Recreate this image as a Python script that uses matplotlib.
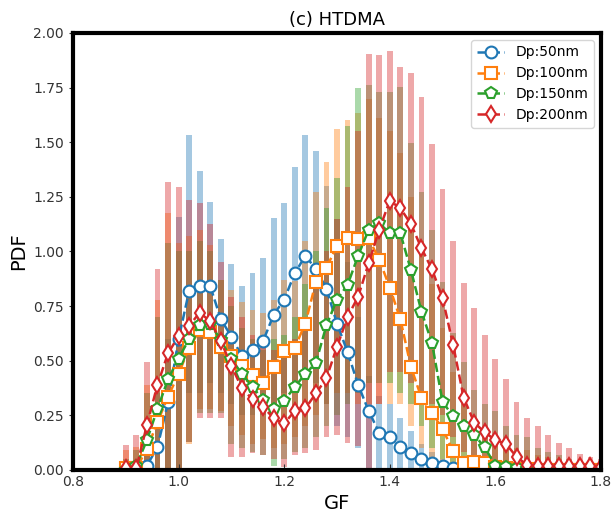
import numpy as np
import matplotlib
matplotlib.use('Agg')
import matplotlib.pyplot as plt

# GF bins
gf = np.round(np.arange(0.90, 1.801, 0.02), 2)

# mean PDF (lines with markers)
pdf_50 = [0.0, 0.0, 0.02, 0.105, 0.31, 0.60, 0.82, 0.84, 0.84, 0.69, 0.61, 0.52, 0.55, 0.59, 0.71,
          0.78, 0.90, 0.98, 0.92, 0.83, 0.67, 0.54, 0.39, 0.27, 0.17, 0.15, 0.105, 0.077, 0.05, 0.033,
          0.02, 0.01, 0.005, 0, 0, 0, 0, 0, 0, 0, 0, 0, 0, 0, 0, 0]
pdf_100 = [0.01, 0.01, 0.095, 0.22, 0.335, 0.44, 0.56, 0.64, 0.63, 0.565, 0.52, 0.475, 0.435, 0.40, 0.47,
           0.545, 0.56, 0.67, 0.86, 0.925, 1.027, 1.06, 1.057, 1.06, 0.963, 0.835, 0.69, 0.472, 0.33, 0.26,
           0.188, 0.085, 0.03, 0.035, 0.03, 0.015, 0.01, 0.005, 0.005, 0, 0, 0, 0, 0, 0, 0]
pdf_150 = [0.0, 0.02, 0.137, 0.28, 0.415, 0.51, 0.60, 0.664, 0.668, 0.595, 0.507, 0.44, 0.38, 0.32, 0.28,
           0.317, 0.38, 0.44, 0.49, 0.662, 0.78, 0.847, 0.98, 1.10, 1.13, 1.083, 1.083, 0.915, 0.725, 0.58,
           0.31, 0.247, 0.203, 0.16, 0.103, 0.02, 0.015, 0.01, 0.005, 0.005, 0, 0, 0, 0, 0, 0]
pdf_200 = [0.008, 0.008, 0.206, 0.39, 0.534, 0.613, 0.66, 0.72, 0.68, 0.59, 0.476, 0.374, 0.323, 0.29, 0.236,
           0.213, 0.27, 0.282, 0.35, 0.42, 0.564, 0.70, 0.793, 0.946, 1.10, 1.232, 1.198, 1.126, 1.015, 0.918,
           0.786, 0.572, 0.33, 0.217, 0.172, 0.137, 0.12, 0.06, 0.023, 0.02, 0.02, 0.02, 0.02, 0.02, 0.02, 0.015]

# range bars (low / high)
hi_50 = [0.0, 0.02, 0.08, 0.35, 0.60, 1.16, 1.533, 1.368, 1.228, 1.056, 0.941, 0.844, 0.90, 0.969, 1.155,
         1.224, 1.388, 1.533, 1.46, 1.30, 1.15, 0.95, 0.70, 0.43, 0.34, 0.30, 0.24, 0.18, 0.12, 0.08,
         0.05, 0.03, 0.01, 0, 0, 0, 0, 0, 0, 0, 0, 0, 0, 0, 0, 0]
lo_50 = [0, 0, 0, 0, 0, 0, 0.35, 0.35, 0.40, 0.35, 0.30, 0.25, 0.25, 0.25, 0.30,
         0.35, 0.40, 0.45, 0.40, 0.30, 0.20, 0.15, 0.10, 0, 0, 0, 0, 0, 0, 0,
         0, 0, 0, 0, 0, 0, 0, 0, 0, 0, 0, 0, 0, 0, 0, 0]
hi_100 = [0.09, 0.107, 0.39, 0.78, 1.175, 1.04, 1.07, 1.10, 1.03, 0.87, 0.824, 0.77, 0.732, 0.717, 0.778,
          0.869, 0.866, 1.05, 1.27, 1.41, 1.56, 1.60, 1.632, 1.70, 1.61, 1.55, 1.45, 1.25, 1.05, 0.85,
          0.65, 0.45, 0.30, 0.22, 0.18, 0.14, 0.12, 0.10, 0.09, 0.07, 0.06, 0.05, 0.04, 0.03, 0.025, 0.02]
lo_100 = [0, 0, 0, 0, 0, 0, 0.12, 0.28, 0.28, 0.27, 0.20, 0.16, 0.12, 0.14, 0.10,
          0.12, 0.15, 0.20, 0.25, 0.30, 0.35, 0.35, 0.30, 0.30, 0.30, 0.30, 0.30, 0.20, 0.10, 0.05,
          0, 0, 0, 0, 0, 0, 0, 0, 0, 0, 0, 0, 0, 0, 0, 0]
hi_150 = [0.05, 0.09, 0.35, 0.70, 1.04, 1.00, 1.00, 1.05, 1.00, 0.87, 0.75, 0.65, 0.60, 0.55, 0.60,
          0.62, 0.70, 0.85, 1.00, 1.20, 1.335, 1.574, 1.747, 1.762, 1.731, 1.73, 1.754, 1.495, 1.274, 1.10,
          0.862, 0.626, 0.496, 0.366, 0.30, 0.27, 0.20, 0.16, 0.15, 0.10, 0.084, 0.069, 0.049, 0.04, 0.03, 0.025]
lo_150 = [0, 0, 0, 0, 0, 0, 0.13, 0.26, 0.26, 0.26, 0.12, 0.10, 0.08, 0.07, 0.02,
          0.05, 0.08, 0.10, 0.15, 0.20, 0.25, 0.30, 0.35, 0.40, 0.40, 0.40, 0.35, 0.30, 0.20, 0.10,
          0.05, 0, 0, 0, 0, 0, 0, 0, 0, 0, 0, 0, 0, 0, 0, 0]
hi_200 = [0.114, 0.16, 0.496, 0.918, 1.32, 1.297, 1.236, 1.22, 1.126, 0.953, 0.79, 0.70, 0.62, 0.58, 0.55,
          0.55, 0.60, 0.70, 0.85, 1.00, 1.15, 1.297, 1.55, 1.904, 1.90, 1.919, 1.843, 1.815, 1.708, 1.492,
          1.285, 1.049, 0.857, 0.74, 0.618, 0.507, 0.415, 0.313, 0.237, 0.20, 0.16, 0.125, 0.099, 0.072, 0.058, 0.049]
lo_200 = [0, 0, 0, 0, 0, 0, 0.13, 0.237, 0.237, 0.24, 0.061, 0.061, 0.076, 0.07, 0.05,
          0.015, 0.07, 0.076, 0.091, 0.153, 0.161, 0.122, 0.11, 0.0, 0.30, 0.45, 0.45, 0.40, 0.35, 0.30,
          0.25, 0.15, 0.08, 0, 0, 0, 0, 0, 0, 0, 0, 0, 0, 0, 0, 0]

labels = ['Dp:50nm', 'Dp:100nm', 'Dp:150nm', 'Dp:200nm']
colors = ['tab:blue', 'tab:orange', 'tab:green', 'tab:red']
markers = ['o', 's', 'p', 'd']
means = [pdf_50, pdf_100, pdf_150, pdf_200]
highs = [hi_50, hi_100, hi_150, hi_200]
lows = [lo_50, lo_100, lo_150, lo_200]

fig = plt.figure(figsize=(6.14, 5.24), dpi=100)
ax = fig.add_axes([0.1189, 0.1031, 0.8599, 0.8340])

# range bars
for lo, hi, c in zip(lows, highs, colors):
    lo = np.array(lo)
    hi = np.array(hi)
    ax.bar(gf, hi - lo, bottom=lo, width=0.011, color=c, alpha=0.4, linewidth=0)

# mean lines
for m, c, mk, lab in zip(means, colors, markers, labels):
    ax.plot(gf, m, linestyle='--', color=c, lw=1.8, marker=mk, ms=8.5,
            mfc='white', mec=c, mew=1.5, label=lab)

ax.set_xlim(0.8, 1.8)
ax.set_ylim(0, 2.0)
ax.set_xticks(np.arange(0.8, 1.81, 0.2))
ax.set_yticks(np.arange(0, 2.01, 0.25))
ax.xaxis.set_major_formatter(matplotlib.ticker.FormatStrFormatter('%.1f'))
ax.yaxis.set_major_formatter(matplotlib.ticker.FormatStrFormatter('%.2f'))
ax.tick_params(axis='x', direction='in', length=4, labelsize=10, colors='#333333')
ax.tick_params(axis='y', direction='out', length=3, labelsize=10, colors='#333333')
for s in ax.spines.values():
    s.set_linewidth(3)
    s.set_color('black')

ax.set_title('(c) HTDMA', fontsize=13)
ax.set_xlabel('GF', fontsize=14)
ax.set_ylabel('PDF', fontsize=14)
ax.legend(loc='upper right', fontsize=10)

fig.savefig('out.png', dpi=100)
